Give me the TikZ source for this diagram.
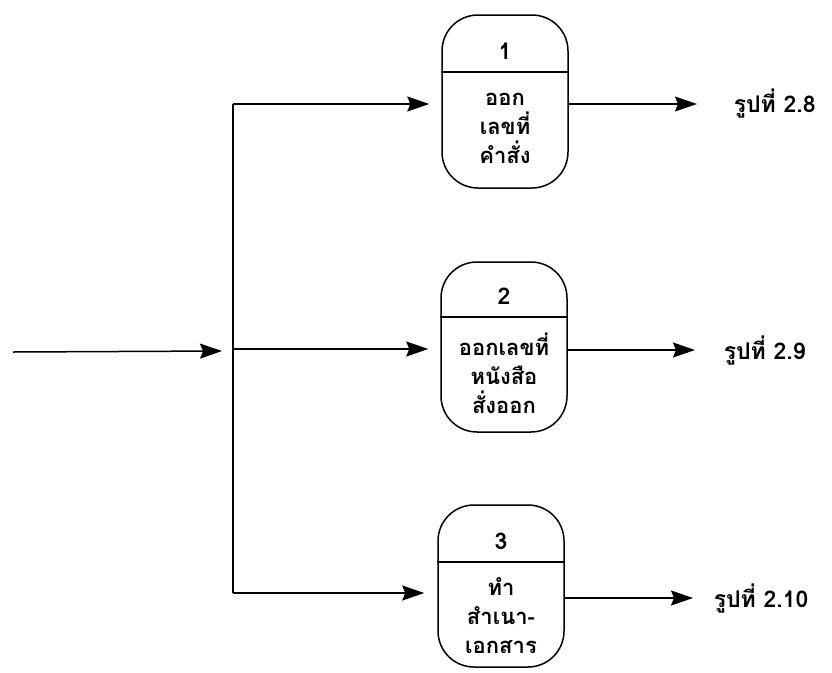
\documentclass[tikz,border=0pt]{standalone}
\usepackage{fontspec}
\newfontfamily\thai[Script=Thai]{Loma}
\usetikzlibrary{arrows.meta}
\begin{document}
\begin{tikzpicture}[x=1pt,y=-1pt,
  line width=1.5pt,
  arr/.style={-{Stealth[length=22pt,width=15pt,inset=3pt]}},
  proc/.style={draw,rounded corners=36pt,minimum width=126pt,inner sep=0pt},
  num/.style={font=\thai\bfseries\fontsize{23}{23}\selectfont},
  txt/.style={font=\thai\bfseries\fontsize{22}{29}\selectfont,align=center,inner sep=0pt},
  lbl/.style={font=\thai\bfseries\fontsize{23}{24}\selectfont,anchor=west,inner sep=0pt}]
\useasboundingbox (0,0) rectangle (832,672);
% process boxes
\node[proc,minimum height=173pt] (n1) at (505,101.5) {};
\node[proc,minimum height=170pt] (n2) at (504,347) {};
\node[proc,minimum height=162pt] (n3) at (501,586) {};
% dividers
\draw (n1.west |- 0,72) coordinate (d1w) -- (n1.east |- 0,72) coordinate (d1e);
\draw (n2.west |- 0,317) coordinate (d2w) -- (n2.east |- 0,317) coordinate (d2e);
\draw (n3.west |- 0,562) coordinate (d3w) -- (n3.east |- 0,562) coordinate (d3e);
% numbers
\node[num] (k1) at (505,51) {1};
\node[num] (k2) at (504,296) {2};
\node[num] (k3) at (501,541) {3};
% texts
\node[txt] (t1) at (505,128) {ออก\\เลขที่\\คำสั่ง};
\node[txt] (t2) at (504,373) {ออกเลขที่\\หนังสือ\\สั่งออก};
\node[txt] (t3) at (501,616) {ทำ\\สำเนา-\\เอกสาร};
% labels
\node[lbl] (o1) at (733,104) {รูปที่ 2.8};
\node[lbl] (o2) at (723,350) {รูปที่ 2.9};
\node[lbl] (o3) at (713,598) {รูปที่ 2.10};
% junction coordinates
\coordinate (in) at (13,352);
\coordinate (jin) at (222,351);
\coordinate (j1) at (233,104);
\coordinate (j2) at (233,349);
\coordinate (j3) at (233,593);
% input and bus
\draw[arr] (in) -- (jin);
\draw (j1) -- (j3);
\draw[arr,shorten >=12pt] (j1) -- (j1 -| n1.west);
\draw[arr,shorten >=12pt] (j2) -- (j2 -| n2.west);
\draw[arr,shorten >=13pt] (j3) -- (j3 -| n3.west);
% outputs
\draw[arr,shorten >=36pt] (n1.east |- o1) -- (o1.west);
\draw[arr,shorten >=28pt] (n2.east |- o2) -- (o2.west);
\draw[arr,shorten >=20pt] (n3.east |- o3) -- (o3.west);
\end{tikzpicture}
\end{document}
